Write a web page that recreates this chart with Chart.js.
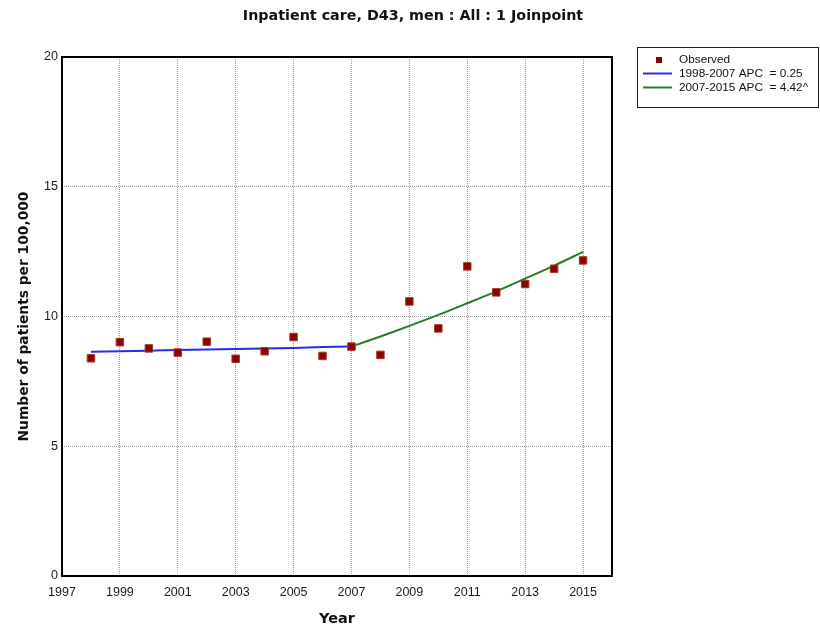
<!DOCTYPE html>
<html>
<head>
<meta charset="utf-8">
<script src="https://cdn.jsdelivr.net/npm/chart.js@4/dist/chart.umd.min.js"></script>
<style>
  html, body { margin: 0; padding: 0; background: #fff; }
  #wrap { position: relative; width: 820px; height: 630px; }
</style>
</head>
<body>
<div id="wrap"><canvas id="c" width="820" height="630"></canvas></div>
<script>
const chartTitle = "Inpatient care, D43, men : All : 1 Joinpoint";
const years = [1998,1999,2000,2001,2002,2003,2004,2005,2006,2007,2008,2009,2010,2011,2012,2013,2014,2015];
const observed = [8.39,9.01,8.77,8.61,9.03,8.37,8.66,9.21,8.48,8.84,8.52,10.58,9.54,11.93,10.93,11.25,11.84,12.16];
const seg1Years = [1998,1999,2000,2001,2002,2003,2004,2005,2006,2007];
const seg1Values = [8.64,8.66,8.68,8.71,8.73,8.75,8.77,8.79,8.82,8.84];
const seg2Years = [2007,2008,2009,2010,2011,2012,2013,2014,2015];
const seg2Values = [8.84,9.23,9.64,10.06,10.51,10.97,11.46,11.96,12.49];
const xTickValues = [1997,1999,2001,2003,2005,2007,2009,2011,2013,2015];
const yTickValues = [0,5,10,15,20];
const legendLabels = ["Observed", "1998-2007 APC  = 0.25", "2007-2015 APC  = 4.42^"];

const toPts = (xs, ys) => xs.map((x, i) => ({x: x, y: ys[i]}));

const obsColor = '#8b0000';
const blue = '#2b2bf0';
const green = '#2a7a2a';
const tickFamily = '"Liberation Sans", Arial, sans-serif';

const customPlugin = {
  id: 'custom',
  beforeDraw(chart) {
    const ctx = chart.ctx;
    ctx.save();
    ctx.fillStyle = '#fff';
    ctx.fillRect(0, 0, chart.width, chart.height);
    ctx.restore();
  },
  afterDatasetsDraw(chart) {
    const ctx = chart.ctx;
    const a = chart.chartArea;
    ctx.save();
    ctx.strokeStyle = '#000';
    ctx.lineWidth = 2;
    ctx.strokeRect(a.left, a.top, a.right - a.left, a.bottom - a.top);
    ctx.restore();
  },
  afterDraw(chart) {
    const ctx = chart.ctx;
    ctx.save();
    ctx.fillStyle = '#111';
    ctx.font = 'bold 14.3px "DejaVu Sans"';
    ctx.textAlign = 'center';
    ctx.textBaseline = 'middle';
    ctx.fillText(chartTitle, 413, 16);
    ctx.strokeStyle = '#222';
    ctx.lineWidth = 1;
    ctx.strokeRect(637.5, 47.5, 181, 60);
    ctx.font = '11.8px ' + tickFamily;
    ctx.textAlign = 'left';
    const ds = chart.data.datasets;
    ctx.fillStyle = ds[0].backgroundColor;
    ctx.fillRect(656, 57, 6, 6);
    ctx.fillStyle = '#111';
    ctx.fillText(legendLabels[0], 679, 60);
    ctx.strokeStyle = ds[1].borderColor;
    ctx.lineWidth = 2;
    ctx.beginPath(); ctx.moveTo(643, 73.5); ctx.lineTo(672, 73.5); ctx.stroke();
    ctx.fillText(legendLabels[1], 679, 74);
    ctx.strokeStyle = ds[2].borderColor;
    ctx.beginPath(); ctx.moveTo(643, 87.5); ctx.lineTo(672, 87.5); ctx.stroke();
    ctx.fillText(legendLabels[2], 679, 88);
    ctx.restore();
  }
};

new Chart(document.getElementById('c'), {
  type: 'scatter',
  data: {
    datasets: [
      {
        label: legendLabels[0],
        data: toPts(years, observed),
        backgroundColor: obsColor,
        borderColor: '#a83a2a',
        borderWidth: 1,
        pointStyle: 'rect',
        pointRadius: 5.3,
        showLine: false
      },
      {
        label: legendLabels[1],
        data: toPts(seg1Years, seg1Values),
        borderColor: blue,
        backgroundColor: blue,
        borderWidth: 2,
        pointRadius: 0,
        showLine: true,
        tension: 0.3
      },
      {
        label: legendLabels[2],
        data: toPts(seg2Years, seg2Values),
        borderColor: green,
        backgroundColor: green,
        borderWidth: 2,
        pointRadius: 0,
        showLine: true,
        tension: 0.3
      }
    ]
  },
  options: {
    responsive: false,
    animation: false,
    devicePixelRatio: 1,
    layout: { padding: { left: 0, top: 57, right: 208, bottom: 0 } },
    plugins: {
      legend: { display: false },
      title: { display: false },
      tooltip: { enabled: false }
    },
    scales: {
      x: {
        type: 'linear',
        min: 1997,
        max: 2016,
        afterBuildTicks(scale) { scale.ticks = xTickValues.map(v => ({value: v})); },
        afterFit(scale) { scale.height = 54; },
        grid: {
          drawTicks: false,
          color: '#9a9a9a',
          lineWidth: 1
        },
        border: { display: false, dash: [1, 1] },
        ticks: {
          padding: 9,
          color: '#1a1a1a',
          font: { family: tickFamily, size: 12.5 },
          maxRotation: 0,
          autoSkip: false,
          callback: v => String(v)
        },
        title: {
          display: true,
          text: 'Year',
          color: '#111',
          font: { family: 'DejaVu Sans', size: 14.5, weight: 'bold' },
          padding: { top: 0, bottom: 2 }
        }
      },
      y: {
        type: 'linear',
        min: 0,
        max: 20,
        afterBuildTicks(scale) { scale.ticks = yTickValues.map(v => ({value: v})); },
        afterFit(scale) { scale.width = 62; },
        grid: {
          drawTicks: false,
          color: '#9a9a9a',
          lineWidth: 1
        },
        border: { display: false, dash: [1, 1] },
        ticks: {
          padding: 4,
          color: '#1a1a1a',
          font: { family: tickFamily, size: 12.5 },
          callback: v => String(v)
        },
        title: {
          display: true,
          text: 'Number of patients per 100,000',
          color: '#111',
          font: { family: 'DejaVu Sans', size: 13.8, weight: 'bold' },
          padding: { top: 16.5, bottom: 0 }
        }
      }
    }
  },
  plugins: [customPlugin]
});
</script>
</body>
</html>
